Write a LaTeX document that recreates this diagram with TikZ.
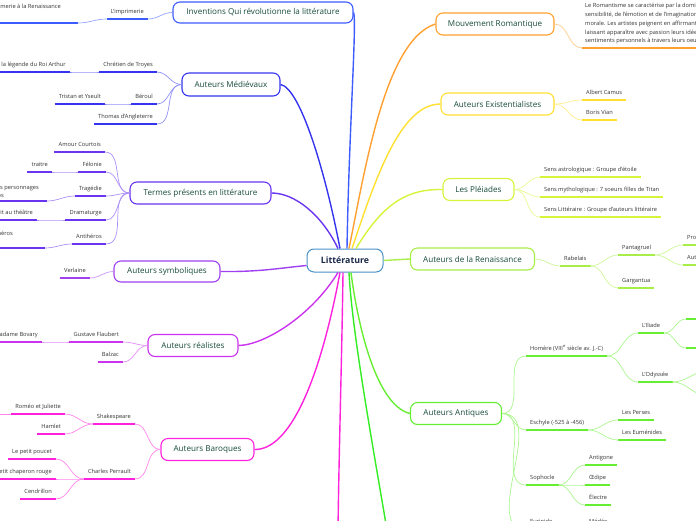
\documentclass[tikz,border=0pt]{standalone}
\usepackage{fontspec}
\setmainfont{Open Sans}
\definecolor{cInv}{HTML}{3D5CFF}
\definecolor{cMed}{HTML}{3535F0}
\definecolor{cTer}{HTML}{6A35F0}
\definecolor{cSym}{HTML}{A040F0}
\definecolor{cRea}{HTML}{CC33F0}
\definecolor{cBar}{HTML}{FF22DD}
\definecolor{cRom}{HTML}{FFA030}
\definecolor{cExi}{HTML}{FFE030}
\definecolor{cPle}{HTML}{D4F53A}
\definecolor{cRen}{HTML}{A8EE48}
\definecolor{cAnt}{HTML}{66EE33}
\definecolor{cGrn}{HTML}{33EE22}
\definecolor{cCen}{HTML}{4A90C8}
\definecolor{tMain}{HTML}{174A3A}
\definecolor{tCen}{HTML}{1B2A4A}
\definecolor{tLeaf}{HTML}{333333}
\tikzset{
  topic/.style={draw=#1, line width=1.1pt, rounded corners=7pt, fill=white, text=tMain,
    font=\fontsize{8.1}{9.5}\selectfont, minimum height=22pt, inner sep=0pt},
  leafbase/.style={font=\fontsize{5.7}{8}\selectfont, text=tLeaf, inner xsep=4pt, inner ysep=4.2pt},
  leaf/.style={leafbase, text height=4.4pt, text depth=1.5pt},
  uline/.style={draw=#1, line width=1.7pt},
  conn/.style={draw=#1!55, line width=0.7pt},
  trunk/.style={draw=#1, line width=1.4pt},
}
\newcommand\leafL[5][]{\node[leaf,anchor=south east,#1] (#2) at #3 {#5};
  \draw[uline=#4] (#2.south west) -- (#2.south east);}
\newcommand\leafR[5][]{\node[leaf,anchor=south west,#1] (#2) at #3 {#5};
  \draw[uline=#4] (#2.south west) -- (#2.south east);}
\begin{document}
\begin{tikzpicture}[x=1pt,y=-1pt]
\useasboundingbox (0,0) rectangle (696,520);
\clip (0,0) rectangle (696,520);

% ---------- centre and topics
\node[draw=cCen, line width=1pt, rounded corners=7pt, fill=white, minimum width=76pt,
  minimum height=23pt, font=\fontsize{8.8}{10}\selectfont\bfseries, text=tCen] (lit) at (345,260.5) {Littérature};

\node[topic=cInv, minimum width=180pt, minimum height=21pt] (inv) at (263,12.5) {Inventions Qui révolutionne la littérature};
\node[topic=cMed, minimum width=98pt, minimum height=23pt] (med) at (231,84.5) {Auteurs Médiévaux};
\node[topic=cTer, minimum width=141pt] (ter) at (200.5,193) {Termes présents en littérature};
\node[topic=cSym, minimum width=106pt, minimum height=21pt] (sym) at (167,271.5) {Auteurs symboliques};
\node[topic=cRea, minimum width=90pt] (rea) at (193,345.5) {Auteurs réalistes};
\node[topic=cBar, minimum width=93pt] (bar) at (207.5,449.5) {Auteurs Baroques};
\node[topic=cRom, minimum width=118pt] (rom) at (495,24) {Mouvement Romantique};
\node[topic=cExi, minimum width=113pt] (exi) at (497.5,104) {Auteurs Existentialistes};
\node[topic=cPle, minimum width=71pt] (ple) at (478.5,189.5) {Les Pléiades};
\node[topic=cRen, minimum width=124pt] (ren) at (472.5,259) {Auteurs de la Renaissance};
\node[topic=cAnt, minimum width=91pt] (anq) at (456,413.5) {Auteurs Antiques};

\coordinate (offM) at (338,530);
\coordinate (offG) at (387,530);

% ---------- trunks
\draw[trunk=cInv] ([xshift=2pt]lit.north) .. controls (349,130) and (357,20) .. (inv.east);
\draw[trunk=cMed] ([xshift=-5pt]lit.north) .. controls (325,170) and (300,88) .. (med.east);
\draw[trunk=cTer] ([xshift=-7pt]lit.north) .. controls (322,215) and (295,193) .. (ter.east);
\draw[trunk=cSym] ([yshift=-5pt]lit.west) .. controls (280,268) and (260,272) .. (sym.east);
\draw[trunk=cRea] ([xshift=-7pt]lit.south) .. controls (312,315) and (265,345) .. (rea.east);
\draw[trunk=cBar] ([xshift=-5pt]lit.south) .. controls (320,380) and (290,450) .. (bar.east);
\draw[trunk=cBar] ([xshift=-2pt]lit.south) .. controls (342,350) and (339,450) .. (offM);
\draw[trunk=cGrn] ([xshift=4pt]lit.south) .. controls (352,330) and (370,430) .. (offG);
\draw[trunk=cAnt] ([xshift=6pt]lit.south) .. controls (357,320) and (375,405) .. (anq.west);
\draw[trunk=cRom] ([xshift=4pt]lit.north) .. controls (365,170) and (385,40) .. (rom.west);
\draw[trunk=cExi] ([xshift=7pt]lit.north) .. controls (375,180) and (400,104) .. (exi.west);
\draw[trunk=cPle] ([xshift=11pt]lit.north) .. controls (385,200) and (410,189) .. (ple.west);
\draw[trunk=cRen] (lit.east) -- (ren.west);

% ---------- left leaves
\leafL{imp}{(148,19)}{cInv}{L'imprimerie}
\leafL[text depth=10pt]{impR}{(78,23)}{cInv}{L'imprimerie à la Renaissance\hspace*{13pt}}
\leafL{chr}{(157,72)}{cMed}{Chrétien de Troyes}
\leafL{art}{(70,72)}{cMed}{Le cycle de la légende du Roi Arthur}
\leafL{ber}{(157,104)}{cMed}{Béroul}
\leafL{tri}{(105,104)}{cMed}{Tristan et Yseult}
\leafL{tho}{(157,124)}{cMed}{Thomas d'Angleterre}

\leafL{amo}{(105,152)}{cTer}{Amour Courtois}
\leafL{fel}{(106,172)}{cTer}{Félonie}
\leafL{tra}{(52,172)}{cTer}{traitre}
\leafL{trg}{(106,196)}{cTer}{Tragédie}
\node[leafbase, anchor=south east, align=right, inner ysep=3.5pt] (trgx) at (47,201)
  {Genre où les personnages\hspace*{4pt}\\sont des héros\hspace*{39pt}};
\draw[uline=cTer] (trgx.south west) -- (trgx.south east);
\leafL{dra}{(106,220)}{cTer}{Dramaturge}
\leafL{drx}{(37,220)}{cTer}{Auteur qui écrit au théâtre}
\leafL{ant}{(106,244)}{cTer}{Antihéros}
\leafL[text depth=8pt]{anx}{(45,248)}{cTer}{Contraire du héros\hspace*{28pt}}

\leafL{ver}{(90,278)}{cSym}{Verlaine}

\leafL{fla}{(123,342)}{cRea}{Gustave Flaubert}
\leafL{bov}{(42,342)}{cRea}{Madame Bovary}
\leafL{bal}{(123,362)}{cRea}{Balzac}

\leafL{sha}{(135,424)}{cBar}{Shakespeare}
\leafL{rj}{(65,414)}{cBar}{Roméo et Juliette}
\leafL{ham}{(65,434)}{cBar}{Hamlet}
\leafL{per}{(135,479)}{cBar}{Charles Perrault}
\leafL{pou}{(56,459)}{cBar}{Le petit poucet}
\leafL{cha}{(56,479)}{cBar}{Le petit chaperon rouge}
\leafL{cen}{(56,499)}{cBar}{Cendrillon}
\coordinate (rjx) at (-12,414);

% ---------- right leaves
\node[leafbase, anchor=south west, align=left, inner xsep=3pt, inner ysep=3.5pt,
  font=\fontsize{5.7}{8.8}\selectfont] (rtx) at (582,48)
  {Le Romantisme se caractérise par la dominance de la\\
   sensibilité, de l'émotion et de l'imagination sur la\\
   morale. Les artistes peignent en affirmant\\
   laissant apparaître avec passion leurs idées et leurs\\
   sentiments personnels à travers leurs oeuvres.};
\draw[uline=cRom] (rtx.south west) -- (rtx.south east);

\leafR{cam}{(582,100)}{cExi}{Albert Camus}
\leafR{vian}{(582,120)}{cExi}{Boris Vian}

\leafR{pa}{(540,177)}{cPle}{Sens astrologique : Groupe d'étoile}
\leafR{pb}{(540,197)}{cPle}{Sens mythologique : 7 soeurs filles de Titan}
\leafR{pc}{(540,217)}{cPle}{Sens Littéraire : Groupe d'auteurs littéraire}

\leafR{rab}{(560,266)}{cRen}{Rabelais}
\leafR{pan}{(618,255)}{cRen}{Pantagruel}
\leafR{gar}{(618,288)}{cRen}{Gargantua}
\leafR{pro}{(683,245)}{cRen}{Prologue}
\leafR{aut}{(683,265)}{cRen}{Auteur}

\leafR{hom}{(526,356)}{cAnt}{Homère (VIII\textsuperscript{e} siècle av. J.-C)}
\leafR{ili}{(638,333)}{cAnt}{L'Iliade}
\leafR{ody}{(638,382)}{cAnt}{L'Odyssée}
\leafR{esc}{(526,430)}{cAnt}{Eschyle (-525 à -456)}
\leafR{prs}{(618,420)}{cAnt}{Les Perses}
\leafR{eum}{(618,440)}{cAnt}{Les Euménides}
\leafR{sop}{(526,485)}{cAnt}{Sophocle}
\leafR{antg}{(585,465)}{cAnt}{Antigone}
\leafR{oed}{(585,485)}{cAnt}{Œdipe}
\leafR{ele}{(585,505)}{cAnt}{Électre}
\leafR{eur}{(526,529)}{cAnt}{Euripide}
\leafR{med2}{(585,529)}{cAnt}{Médée}

\coordinate (il1) at (686,319); \coordinate (il1e) at (710,319);
\coordinate (il2) at (686,348); \coordinate (il2e) at (710,348);
\coordinate (od1) at (708,371);
\coordinate (od2) at (708,396);
\draw[uline=cAnt] (il1) -- (il1e);
\draw[uline=cAnt] (il2) -- (il2e);

% ---------- connectors left
\draw[conn=cInv] (inv.west) to[out=180,in=0] (imp.south east);
\draw[conn=cInv] (imp.south west) to[out=180,in=0] (impR.south east);
\foreach \c in {chr,ber,tho} \draw[conn=cMed] (med.west) to[out=180,in=0] (\c.south east);
\draw[conn=cMed] (chr.south west) to[out=180,in=0] (art.south east);
\draw[conn=cMed] (ber.south west) to[out=180,in=0] (tri.south east);
\foreach \c in {amo,fel,trg,dra,ant} \draw[conn=cTer] (ter.west) to[out=180,in=0] (\c.south east);
\draw[conn=cTer] (fel.south west) to[out=180,in=0] (tra.south east);
\draw[conn=cTer] (trg.south west) to[out=180,in=0] (trgx.south east);
\draw[conn=cTer] (dra.south west) to[out=180,in=0] (drx.south east);
\draw[conn=cTer] (ant.south west) to[out=180,in=0] (anx.south east);
\draw[conn=cSym] (sym.west) to[out=180,in=0] (ver.south east);
\foreach \c in {fla,bal} \draw[conn=cRea] (rea.west) to[out=180,in=0] (\c.south east);
\draw[conn=cRea] (fla.south west) to[out=180,in=0] (bov.south east);
\foreach \c in {sha,per} \draw[conn=cBar] (bar.west) to[out=180,in=0] (\c.south east);
\foreach \c in {rj,ham} \draw[conn=cBar] (sha.south west) to[out=180,in=0] (\c.south east);
\foreach \c in {pou,cha,cen} \draw[conn=cBar] (per.south west) to[out=180,in=0] (\c.south east);
\draw[conn=cBar] (rj.south west) -- (rjx);

% ---------- connectors right
\draw[conn=cRom] (rom.east) to[out=0,in=180] (rtx.south west);
\foreach \c in {cam,vian} \draw[conn=cExi] (exi.east) to[out=0,in=180] (\c.south west);
\foreach \c in {pa,pb,pc} \draw[conn=cPle] (ple.east) to[out=0,in=180] (\c.south west);
\draw[conn=cRen] (ren.east) to[out=0,in=180] (rab.south west);
\foreach \c in {pan,gar} \draw[conn=cRen] (rab.south east) to[out=0,in=180] (\c.south west);
\foreach \c in {pro,aut} \draw[conn=cRen] (pan.south east) to[out=0,in=180] (\c.south west);
\foreach \c in {hom,esc,sop,eur} \draw[conn=cAnt] (anq.east) to[out=0,in=180] (\c.south west);
\foreach \c in {ili,ody} \draw[conn=cAnt] (hom.south east) to[out=0,in=180] (\c.south west);
\foreach \c in {il1,il2} \draw[conn=cAnt] (ili.south east) to[out=0,in=180] (\c);
\foreach \c in {od1,od2} \draw[conn=cAnt] (ody.south east) to[out=0,in=180] (\c);
\foreach \c in {prs,eum} \draw[conn=cAnt] (esc.south east) to[out=0,in=180] (\c.south west);
\foreach \c in {antg,oed,ele} \draw[conn=cAnt] (sop.south east) to[out=0,in=180] (\c.south west);
\draw[conn=cAnt] (eur.south east) to[out=0,in=180] (med2.south west);
\end{tikzpicture}
\end{document}
